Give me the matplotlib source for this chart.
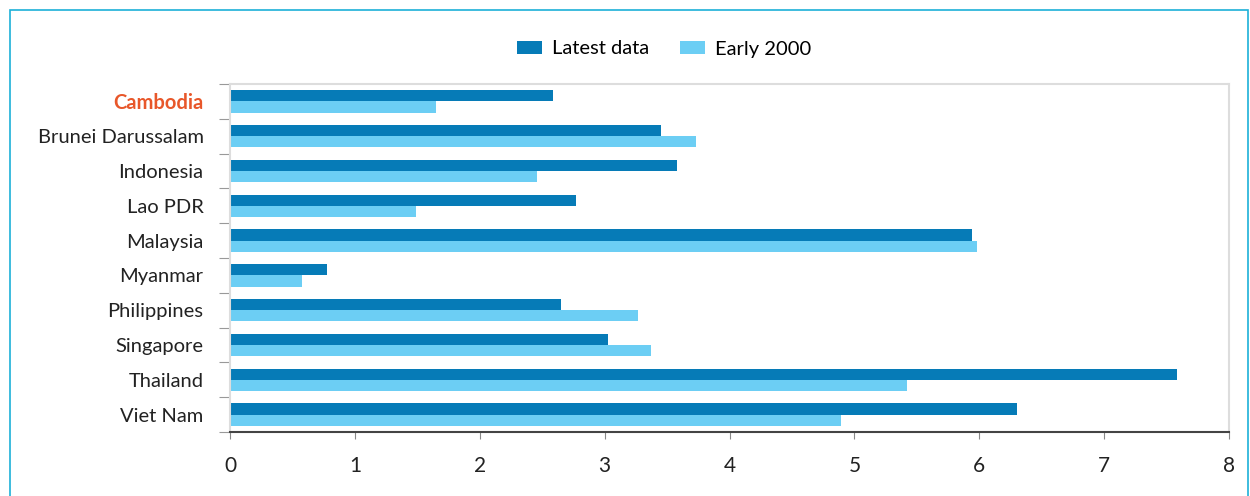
import matplotlib.pyplot as plt
import matplotlib.patches as mpatches
import numpy as np

plt.rcParams['font.family'] = ['Lato', 'DejaVu Sans']

countries = ['Cambodia', 'Brunei Darussalam', 'Indonesia', 'Lao PDR', 'Malaysia',
             'Myanmar', 'Philippines', 'Singapore', 'Thailand', 'Viet Nam']
latest = [2.59, 3.45, 3.58, 2.77, 5.94, 0.78, 2.65, 3.03, 7.58, 6.30]
early2000 = [1.65, 3.73, 2.46, 1.49, 5.98, 0.58, 3.27, 3.37, 5.42, 4.89]

dark = '#067bb7'
light = '#6ccef4'

fig = plt.figure(figsize=(12.5, 4.96), dpi=100)
ax = fig.add_axes([230 / 1250, 1 - 432 / 496, 999 / 1250, 348 / 496])

y = np.arange(len(countries))
h = 0.32
ax.barh(y - h / 2, latest, height=h, color=dark, label='Latest data')
ax.barh(y + h / 2, early2000, height=h, color=light, label='Early 2000')

ax.set_xlim(0, 8)
ax.set_ylim(len(countries) - 0.5, -0.5)
ax.set_xticks(range(9))
ax.tick_params(axis='x', labelsize=15, colors='#888888', labelcolor='#222222',
               length=5, pad=12)

# country labels as minor ticks, tick marks at category boundaries
ax.set_yticks(np.arange(len(countries) + 1) - 0.5)
ax.set_yticklabels([])
ax.tick_params(axis='y', which='major', length=8, color='#999999')
ax.set_yticks(y, minor=True)
ax.set_yticklabels(countries, minor=True)
ax.tick_params(axis='y', which='minor', length=0, pad=19, labelsize=14.5,
               labelcolor='#222222')
ax.get_yticklabels(minor=True)[0].set_color('#e8572a')
ax.get_yticklabels(minor=True)[0].set_fontweight('bold')

for s in ['top', 'right', 'left']:
    ax.spines[s].set_color('#dddddd')
    ax.spines[s].set_linewidth(1.5)
ax.spines['bottom'].set_color('#444444')
ax.spines['bottom'].set_linewidth(1.5)

fig.legend(loc='center', bbox_to_anchor=(664 / 1250, 1 - 49 / 496), ncol=2,
           frameon=False, fontsize=14.5, handlelength=1.25, handleheight=0.6,
           columnspacing=1.5, handletextpad=0.5)

fig.patches.append(mpatches.Rectangle((10 / 1250, -0.01), 1238 / 1250, 1 - 10 / 496 + 0.01,
                                      transform=fig.transFigure, fill=False,
                                      edgecolor='#1cb0d8', linewidth=1.2))

plt.savefig('out.png', dpi=100)
